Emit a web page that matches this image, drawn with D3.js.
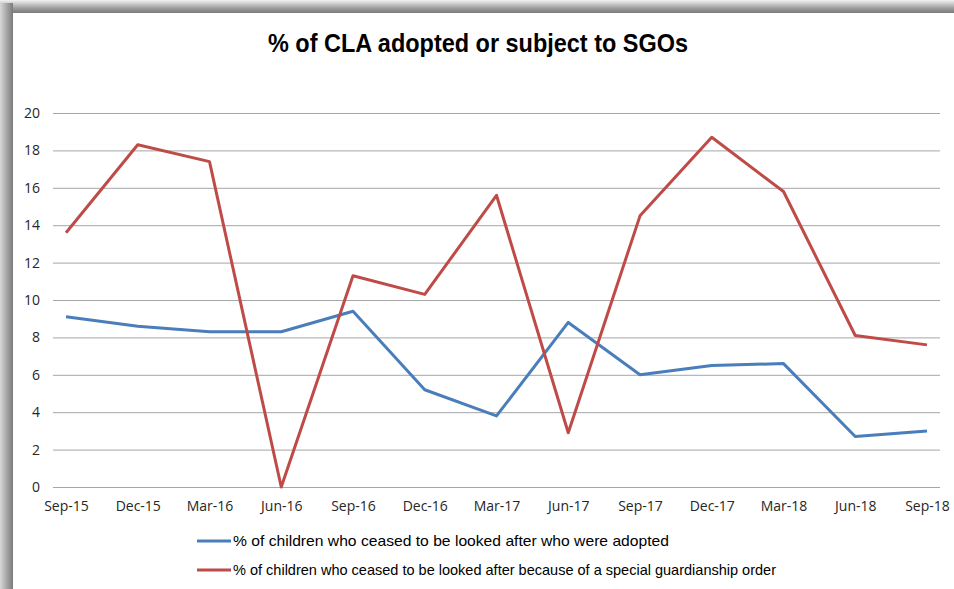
<!DOCTYPE html>
<html lang="en">
<head>
<meta charset="utf-8">
<title>% of CLA adopted or subject to SGOs</title>
<script src="https://cdn.jsdelivr.net/npm/d3@7/dist/d3.min.js"></script>
<style>
  body { margin: 0; background: #fff; }
  svg { display: block; }
</style>
</head>
<body>
<script>
// chart data
var quarters = ["Sep-15", "Dec-15", "Mar-16", "Jun-16", "Sep-16", "Dec-16", "Mar-17",
                "Jun-17", "Sep-17", "Dec-17", "Mar-18", "Jun-18", "Sep-18"];
var adopted = [9.1, 8.6, 8.3, 8.3, 9.4, 5.2, 3.8, 8.8, 6.0, 6.5, 6.6, 2.7, 3.0];
var sgo = [13.6, 18.3, 17.4, 0, 11.3, 10.3, 15.6, 2.9, 14.5, 18.7, 15.8, 8.1, 7.6];
var yTicks = [0, 2, 4, 6, 8, 10, 12, 14, 16, 18, 20];
var seriesNames = [
  "% of children who ceased to be looked after who were adopted",
  "% of children who ceased to be looked after because of a special guardianship order"
];

var w = 954, h = 589;
var font = "'Open Sans', 'DejaVu Sans', sans-serif";

var svg = d3.select("body").append("svg")
    .attr("width", w)
    .attr("height", h);

// frame shadow (left and top)
var defs = svg.append("defs");
var gl = defs.append("linearGradient").attr("id", "shL").attr("x1", 0).attr("x2", 1).attr("y1", 0).attr("y2", 0);
gl.append("stop").attr("offset", "0%").attr("stop-color", "#d8d8d8");
gl.append("stop").attr("offset", "65%").attr("stop-color", "#9a9a9a");
gl.append("stop").attr("offset", "100%").attr("stop-color", "#7a7a7a");
var gt = defs.append("linearGradient").attr("id", "shT").attr("x1", 0).attr("x2", 0).attr("y1", 0).attr("y2", 1);
gt.append("stop").attr("offset", "0%").attr("stop-color", "#f2f2f2");
gt.append("stop").attr("offset", "65%").attr("stop-color", "#9a9a9a");
gt.append("stop").attr("offset", "100%").attr("stop-color", "#7a7a7a");

svg.append("rect").attr("x", 0).attr("y", 0).attr("width", w).attr("height", 13).attr("fill", "url(#shT)");
svg.append("rect").attr("x", 0).attr("y", 3).attr("width", 13).attr("height", h).attr("fill", "url(#shL)");
svg.append("rect").attr("x", 13).attr("y", 13).attr("width", w - 13).attr("height", h - 13).attr("fill", "#fff");

// title
svg.append("text")
    .attr("x", 478)
    .attr("y", 52)
    .attr("text-anchor", "middle")
    .attr("font-family", "'Liberation Sans', sans-serif")
    .attr("font-weight", "bold")
    .attr("font-size", "25px")
    .attr("textLength", 420)
    .attr("lengthAdjust", "spacingAndGlyphs")
    .attr("fill", "#000")
    .text("% of CLA adopted or subject to SGOs");

// scales
var xScale = d3.scalePoint()
    .domain(quarters)
    .range([66, 927]);

var yScale = d3.scaleLinear()
    .domain([0, 20])
    .range([487, 113]);

// gridlines + y axis
var yAxis = d3.axisLeft(yScale)
    .tickValues(yTicks)
    .tickSize(-(940 - 53))
    .tickPadding(13);

var gy = svg.append("g")
    .attr("transform", "translate(53,0)")
    .call(yAxis);
gy.select(".domain").remove();
gy.selectAll(".tick line").attr("stroke", "#a6a6a6").attr("stroke-width", 1);
gy.selectAll(".tick text")
    .attr("font-family", font)
    .attr("font-size", "14px")
    .attr("fill", "#262626");

// x axis labels
var xAxis = d3.axisBottom(xScale).tickSize(0).tickPadding(14);
var gx = svg.append("g")
    .attr("transform", "translate(0,487)")
    .call(xAxis);
gx.select(".domain").remove();
gx.selectAll(".tick text")
    .attr("font-family", font)
    .attr("font-size", "14px")
    .attr("fill", "#262626");

// lines
var line = d3.line()
    .x(function(d, i) { return xScale(quarters[i]); })
    .y(function(d) { return yScale(d); });

var colors = ["#4a7ebb", "#be4b48"];

[adopted, sgo].forEach(function(s, i) {
  svg.append("path")
      .datum(s)
      .attr("d", line)
      .attr("fill", "none")
      .attr("stroke", colors[i])
      .attr("stroke-width", 3)
      .attr("stroke-linejoin", "round");
});

// legend
var legendWidths = [436, 543];
var legend = svg.append("g");
seriesNames.forEach(function(name, i) {
  var y = 541 + i * 29;
  legend.append("line")
      .attr("x1", 197).attr("x2", 231)
      .attr("y1", y).attr("y2", y)
      .attr("stroke", colors[i])
      .attr("stroke-width", 3);
  legend.append("text")
      .attr("x", 233)
      .attr("y", y + 5)
      .attr("font-family", "'Liberation Sans', sans-serif")
      .attr("font-size", "15px")
      .attr("textLength", legendWidths[i])
      .attr("lengthAdjust", "spacingAndGlyphs")
      .attr("fill", "#000")
      .text(name);
});
</script>
</body>
</html>
